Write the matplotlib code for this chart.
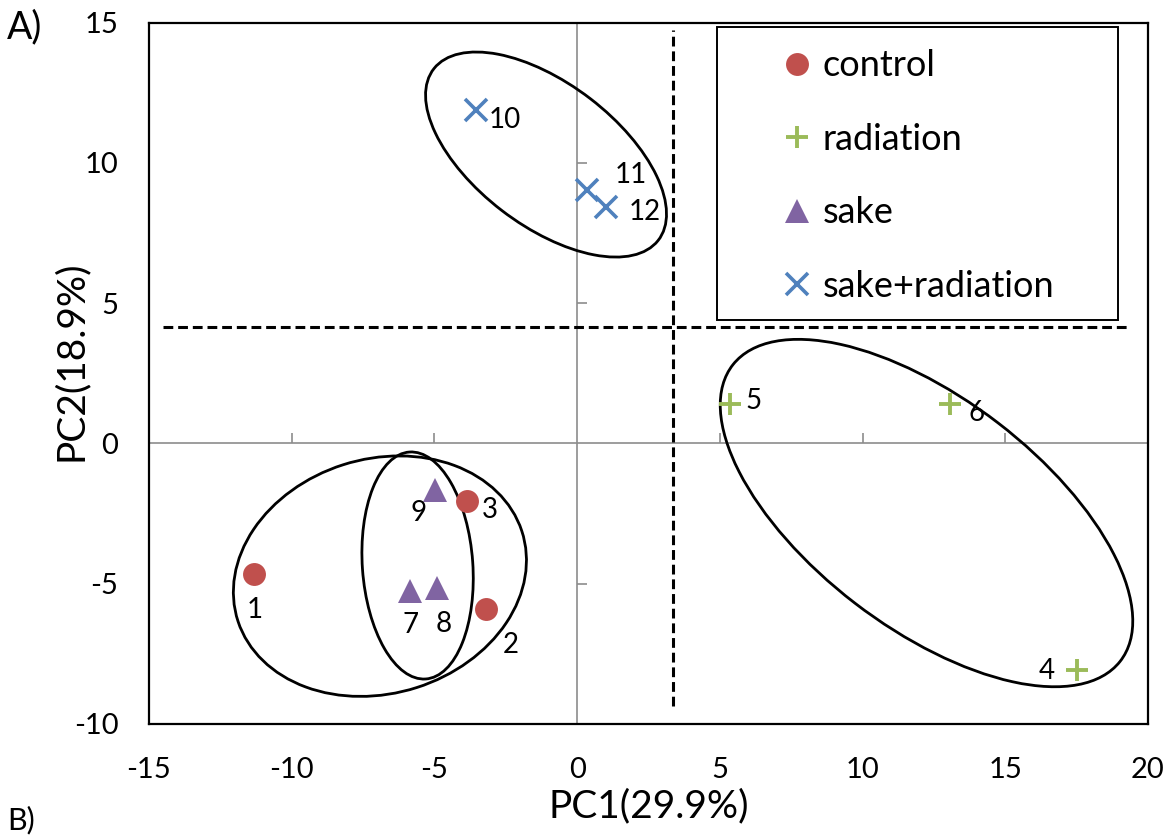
import matplotlib
matplotlib.use("Agg")
import matplotlib.pyplot as plt
from matplotlib.patches import Ellipse, Rectangle

plt.rcParams['font.family'] = ['Lato', 'DejaVu Sans']
plt.rcParams['axes.unicode_minus'] = False

# ---- data ----
groups = ["control", "radiation", "sake", "sake+radiation"]
colors = ["#C0504D", "#9BBB59", "#8064A2", "#4F81BD"]
markers = ["o", "+", "^", "x"]

control_ids = ["1", "2", "3"]
control_x = [-11.31, -3.19, -3.87]
control_y = [-4.66, -5.91, -2.04]

radiation_ids = ["4", "5", "6"]
radiation_x = [17.51, 5.36, 13.06]
radiation_y = [-8.09, 1.40, 1.42]

sake_ids = ["7", "8", "9"]
sake_x = [-5.84, -4.92, -4.98]
sake_y = [-5.25, -5.14, -1.65]

sakerad_ids = ["10", "11", "12"]
sakerad_x = [-3.54, 0.34, 1.00]
sakerad_y = [11.89, 9.04, 8.44]

# confidence ellipses: center x, center y, width, height, angle
ell_cx = [-6.91, -5.59, -1.09, 12.24]
ell_cy = [-4.73, -4.35, 10.30, -2.48]
ell_w = [10.45, 3.87, 9.96, 17.2]
ell_h = [8.35, 8.11, 5.05, 8.15]
ell_ang = [18, 4, -38, -38]

# dashed dividing lines
vline_x = 3.36
vline_y = [-9.36, 14.75]
hline_y = 4.15
hline_x = [-14.5, 19.4]

xticks = [-15, -10, -5, 0, 5, 10, 15, 20]
yticks = [-10, -5, 0, 5, 10, 15]
xlim = (-15, 20)
ylim = (-10, 15)

# ---- figure ----
W, H = 1165, 835
fig = plt.figure(figsize=(W / 100, H / 100), dpi=100)
rect = [149 / W, 1 - 724 / H, 999 / W, 701.3 / H]

# zero-axes (gray lines with small inward ticks)
az = fig.add_axes(rect, frameon=True)
az.set_xlim(xlim); az.set_ylim(ylim)
az.patch.set_visible(False)
for s in ["top", "right"]:
    az.spines[s].set_visible(False)
az.spines["left"].set_position(("data", 0))
az.spines["bottom"].set_position(("data", 0))
for s in ["left", "bottom"]:
    az.spines[s].set_color("#8C8C8C")
    az.spines[s].set_linewidth(1.2)
az.set_xticks([t for t in xticks if t != 0])
az.set_yticks([t for t in yticks if t != 0])
az.tick_params(direction="in", length=7, width=1.2, color="#8C8C8C",
               labelleft=False, labelbottom=False)

# main axes
ax = fig.add_axes(rect)
ax.set_facecolor("none")
ax.set_xlim(xlim); ax.set_ylim(ylim)
ax.set_xticks(xticks); ax.set_yticks(yticks)
ax.set_xticklabels([str(t) for t in xticks])
ax.set_yticklabels([str(t) for t in yticks])
ax.tick_params(length=0, labelsize=21, pad=22)
ax.tick_params(axis="x", pad=24)
for s in ax.spines.values():
    s.set_color("black")
    s.set_linewidth(1.6)

ax.set_xlabel("PC1(29.9%)", fontsize=28)
ax.set_ylabel("PC2(18.9%)", fontsize=28)
ax.xaxis.set_label_coords(0.5, -0.091)
ax.yaxis.set_label_coords(-0.0604, 0.5176)

# dashed lines
dash = (0, (3.2, 1.6))
ax.plot([vline_x, vline_x], vline_y, color="black", lw=2.2, linestyle=dash, zorder=2)
ax.plot(hline_x, [hline_y, hline_y], color="black", lw=2.2, linestyle=dash, zorder=2)

# ellipses
for cx, cy, w, h, a in zip(ell_cx, ell_cy, ell_w, ell_h, ell_ang):
    ax.add_patch(Ellipse((cx, cy), w, h, angle=a, fill=False,
                         edgecolor="black", lw=2.0, zorder=3))

series = [
    (control_x, control_y, control_ids),
    (radiation_x, radiation_y, radiation_ids),
    (sake_x, sake_y, sake_ids),
    (sakerad_x, sakerad_y, sakerad_ids),
]
msizes = [16.5, 16, 17, 15.5]
mews = [0, 2.8, 0, 2.6]
handles = []
for (xs, ys, ids), g, c, m, ms, mew in zip(series, groups, colors, markers, msizes, mews):
    h, = ax.plot(xs, ys, linestyle="none", marker=m, ms=ms, color=c,
                 markeredgewidth=mew, label=g, zorder=4)
    handles.append(h)

# point labels (offsets in points)
label_offsets = {
    "1": (0, -26), "2": (18, -26), "3": (17, -6.5),
    "4": (-22, -0.7), "5": (17, 2.4), "6": (19.5, -7),
    "7": (0, -24.5), "8": (5, -26.5), "9": (-12, -17),
    "10": (21, -7), "11": (32, 11), "12": (28, -3.6),
}
for xs, ys, ids in series:
    for x, y, t in zip(xs, ys, ids):
        ax.annotate(t, (x, y), xytext=label_offsets[t], textcoords="offset points",
                    ha="center", va="center", fontsize=20, zorder=5)

# legend
leg = ax.legend(handles=handles, loc="upper left", bbox_to_anchor=(0.6306, 0.962),
                frameon=False, fontsize=26, handlelength=1.0, handletextpad=0.2,
                borderpad=0, borderaxespad=0, labelspacing=1.12)
ax.add_patch(Rectangle((0.569, 0.5765), 0.401, 0.4175, transform=ax.transAxes,
                       fill=False, edgecolor="black", lw=1.4, zorder=6))

fig.text(7 / W, 1 - 27 / H, "A)", fontsize=27, ha="left", va="center")
fig.text(7 / W, 1 / H, "B)", fontsize=22, ha="left", va="bottom")

fig.savefig("out.png", dpi=100)
